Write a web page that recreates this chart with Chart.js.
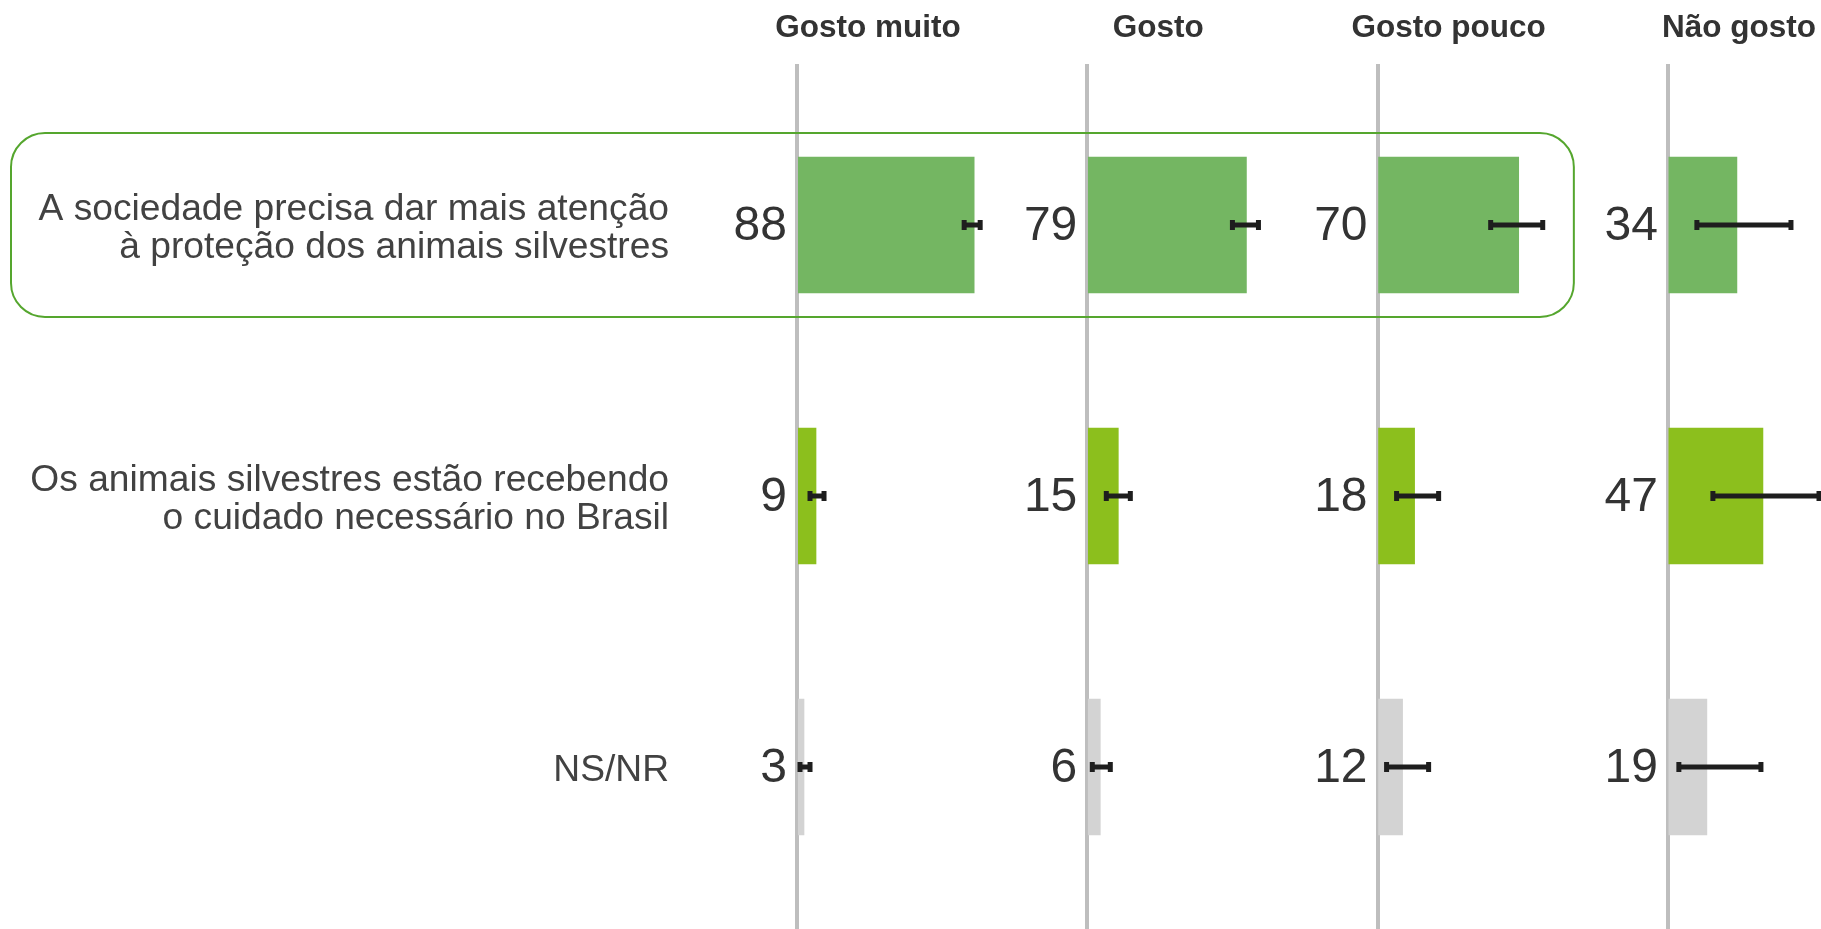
<!DOCTYPE html>
<html>
<head>
<meta charset="utf-8">
<script src="https://cdn.jsdelivr.net/npm/chart.js@4"></script>
<style>
  body { margin: 0; background: #fff; }
</style>
</head>
<body>
<canvas id="chart" width="1821" height="929"></canvas>
<script>
// statements (rows) and answer groups (panels)
const statements = [
  ['A sociedade precisa dar mais atenção', 'à proteção dos animais silvestres'],
  ['Os animais silvestres estão recebendo', 'o cuidado necessário no Brasil'],
  'NS/NR'
];
const groups = ['Gosto muito', 'Gosto', 'Gosto pouco', 'Não gosto'];

// percentages per group, in statement order
const gostoMuito = [88, 9, 3];
const gosto = [79, 15, 6];
const gostoPouco = [70, 18, 12];
const naoGosto = [34, 47, 19];

// error bar ends [low, high], in statement order
const errGostoMuito = [[83, 91], [6, 13], [1, 6]];
const errGosto = [[72, 85], [9, 21], [2, 11]];
const errGostoPouco = [[56, 82], [9, 30], [4, 25]];
const errNaoGosto = [[14, 61], [22, 75], [5, 46]];

const values = [gostoMuito, gosto, gostoPouco, naoGosto];
const errors = [errGostoMuito, errGosto, errGostoPouco, errNaoGosto];
const rowColors = ['#74b662', '#8cbf1d', '#d3d3d3'];
const panelSpan = 145; // each panel covers 145 points on the shared x scale

const datasets = groups.map((g, i) => ({
    label: g,
    data: values[i].map(v => [i * panelSpan, i * panelSpan + v]),
    backgroundColor: rowColors,
    barThickness: 136,
    grouped: false
}));

const decor = {
    id: 'decor',
    beforeDatasetsDraw(chart) {
        const { ctx, scales: { x } } = chart;
        ctx.save();
        ctx.strokeStyle = '#bebebe';
        ctx.lineWidth = 4;
        groups.forEach((g, i) => {
            const px = Math.round(x.getPixelForValue(i * panelSpan)) - 1;
            ctx.beginPath();
            ctx.moveTo(px, 64);
            ctx.lineTo(px, chart.height);
            ctx.stroke();
        });
        ctx.restore();
    },
    afterDatasetsDraw(chart) {
        const { ctx, scales: { x, y } } = chart;
        ctx.save();

        // error bars
        ctx.strokeStyle = '#1e1e1e';
        errors.forEach((grp, i) => {
            grp.forEach(([lo, hi], r) => {
                const cy = y.getPixelForValue(r);
                const x1 = x.getPixelForValue(i * panelSpan + lo);
                const x2 = x.getPixelForValue(i * panelSpan + hi);
                ctx.lineWidth = 5;
                ctx.beginPath();
                ctx.moveTo(x1, cy);
                ctx.lineTo(x2, cy);
                ctx.stroke();
                [x1, x2].forEach(cx => {
                    ctx.beginPath();
                    ctx.moveTo(cx, cy - 5);
                    ctx.lineTo(cx, cy + 5);
                    ctx.stroke();
                });
            });
        });

        // value labels left of each panel line
        ctx.fillStyle = '#333333';
        ctx.font = '48px "Liberation Sans", Arial, sans-serif';
        ctx.textAlign = 'right';
        ctx.textBaseline = 'middle';
        values.forEach((vals, i) => {
            const px = x.getPixelForValue(i * panelSpan);
            vals.forEach((v, r) => {
                ctx.fillText(String(v), px - 11, y.getPixelForValue(r) + 2);
            });
        });

        // panel headers
        ctx.font = 'bold 31.5px "Liberation Sans", Arial, sans-serif';
        ctx.textAlign = 'center';
        groups.forEach((g, i) => {
            ctx.fillText(g, x.getPixelForValue(i * panelSpan + 35), 28);
        });

        // highlight box round the first statement
        const top = y.getPixelForValue(0) - 92;
        const right = x.getPixelForValue(3 * panelSpan) - 95;
        ctx.strokeStyle = '#55a62e';
        ctx.lineWidth = 2;
        ctx.beginPath();
        ctx.roundRect(11, top, right - 11, 184, 34);
        ctx.stroke();

        ctx.restore();
    }
};

new Chart(document.getElementById('chart'), {
    type: 'bar',
    data: { labels: statements, datasets },
    options: {
        indexAxis: 'y',
        responsive: false,
        animation: false,
        layout: { padding: { top: 89.5, bottom: 26.5, left: 0, right: 0 } },
        plugins: {
            legend: { display: false },
            tooltip: { enabled: false }
        },
        scales: {
            x: {
                type: 'linear',
                display: false,
                min: 0,
                max: 511
            },
            y: {
                grid: { display: false, drawTicks: false },
                border: { display: false },
                ticks: {
                    padding: 129,
                    labelOffset: 4,
                    color: '#424242',
                    font: { family: '"Liberation Sans", Arial, sans-serif', size: 37.2, lineHeight: 1.03 }
                },
                afterFit(scale) {
                    scale.width = 798;
                    scale.paddingTop = 0;
                    scale.paddingBottom = 0;
                }
            }
        }
    },
    plugins: [decor]
});
</script>
</body>
</html>
